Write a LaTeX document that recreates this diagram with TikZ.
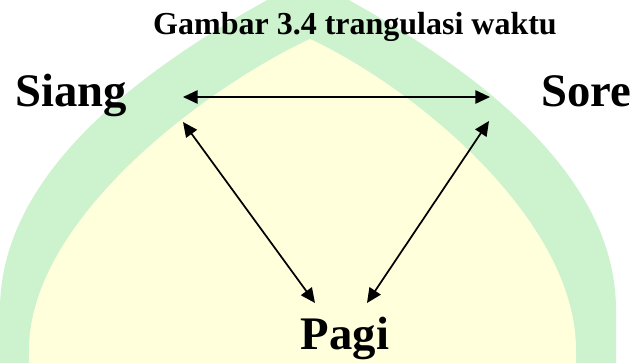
\documentclass[tikz,border=0pt]{standalone}
\usepackage{fontspec}
\setmainfont{Liberation Serif}
\usetikzlibrary{arrows.meta}
\definecolor{kubahhijau}{RGB}{204,242,206}
\definecolor{kubahkuning}{RGB}{255,255,220}
\tikzset{
  waktu/.style={font=\fontsize{35}{40}\selectfont\bfseries, inner sep=0pt},
  judul/.style={font=\fontsize{24}{28}\selectfont\bfseries, inner sep=0pt},
  panah/.style={line width=1.3pt,
    {Triangle[length=11pt,width=10pt]}-{Triangle[length=11pt,width=10pt]}}
}
\begin{document}
\begin{tikzpicture}[x=0.75pt,y=-0.75pt]
\useasboundingbox (0,0) rectangle (636,363);
% logo di latar
\begin{scope}
\clip (0,0) rectangle (636,363);
\fill[kubahhijau] (0,380) -- (0,310) .. controls (0,160) and (170,50) .. (308,-22)
  .. controls (446,50) and (616,160) .. (616,310) -- (616,380) -- cycle;
\fill[kubahkuning] (29,380) -- (29,350) .. controls (29,220) and (205,88) .. (310,39)
  .. controls (415,88) and (576,220) .. (576,350) -- (576,380) -- cycle;
\end{scope}
% judul dan waktu
\node[judul, anchor=base] (judul) at (355,35) {Gambar 3.4 trangulasi waktu};
\node[waktu, anchor=base west] (siang) at (15,107) {Siang};
\node[waktu, anchor=base west] (sore) at (541,107) {Sore};
\node[waktu, anchor=base] (pagi) at (345,350) {Pagi};
% ujung panah
\coordinate (siangkanan) at (183,97);
\coordinate (sorekiri) at (490,97);
\coordinate (siangbawah) at (183,122);
\coordinate (sorebawah) at (489,121);
\coordinate (pagikiri) at (315,303);
\coordinate (pagikanan) at (367,303);
\draw[panah] (siangkanan) -- (sorekiri);
\draw[panah] (siangbawah) -- (pagikiri);
\draw[panah] (sorebawah) -- (pagikanan);
\end{tikzpicture}
\end{document}
